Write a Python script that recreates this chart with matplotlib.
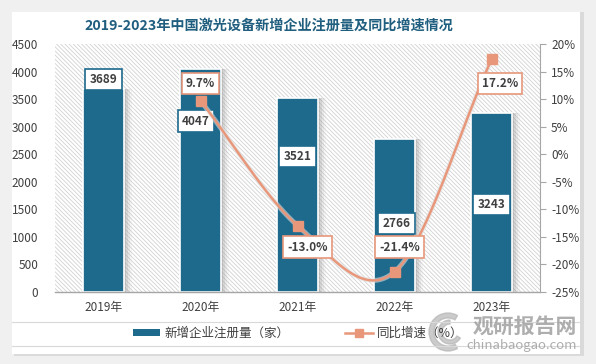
import matplotlib
matplotlib.use("Agg")
import matplotlib.pyplot as plt
import numpy as np
from matplotlib.patches import Rectangle, Wedge
from matplotlib.lines import Line2D
from matplotlib.ticker import FuncFormatter

plt.rcParams['font.family'] = ['Noto Sans CJK SC', 'DejaVu Sans']
plt.rcParams['hatch.color'] = '#D2D2D2'
plt.rcParams['hatch.linewidth'] = 0.6

# ---- data ----
years = ['2019年', '2020年', '2021年', '2022年', '2023年']
registrations = [3689, 4047, 3521, 2766, 3243]
growth_years = ['2020年', '2021年', '2022年', '2023年']
growth = [9.7, -13.0, -21.4, 17.2]
title = '2019-2023年中国激光设备新增企业注册量及同比增速情况'
legend_bar = '新增企业注册量（家）'
legend_line = '同比增速（%）'

BAR = '#1D6A8D'
LINE = '#E8977B'
TXT = '#404040'

fig = plt.figure(figsize=(5.96, 3.64), dpi=100)
fig.patch.set_facecolor('#F0F0F0')
# card with shadow
fig.patches.append(Rectangle((14/596, 8/364), 570/596, 344/364, transform=fig.transFigure,
                             facecolor='#DADADA', edgecolor='none', zorder=-5))
fig.patches.append(Rectangle((12/596, 10/364), 568/596, 342/364, transform=fig.transFigure,
                             facecolor='white', edgecolor='none', zorder=-4))

ax = fig.add_axes([55/596, (364-291.6)/364, 485/596, (291.6-44)/364])
ax.set_facecolor('white')
hp = Rectangle((0, 0), 1, 1, transform=ax.transAxes, fill=False,
               hatch='\\' * 8, edgecolor='#D2D2D2', linewidth=0, zorder=0)
ax.add_patch(hp)

x = np.arange(len(years))
# soft shadow behind bars (to the right)
for k, a in enumerate([0.35, 0.25, 0.15, 0.08]):
    ax.bar(x + 0.02 + 0.02 * k, registrations, width=0.43, color='#A0A0A0', alpha=a,
           linewidth=0, zorder=1)
ax.bar(x, registrations, width=0.43, color=BAR, edgecolor='white', linewidth=1.2, zorder=2)
ax.set_xlim(-0.5, len(years) - 0.5)
ax.set_ylim(0, 4500)
ax.set_yticks(np.arange(0, 4501, 500))
ax.set_xticks(x)
ax.set_xticklabels(years, fontsize=8.5, color=TXT)
ax.tick_params(axis='y', length=0, pad=12, labelsize=8.5, labelcolor=TXT)
ax.tick_params(axis='x', length=0, pad=7)
for s in ['top', 'right', 'left']:
    ax.spines[s].set_visible(False)
ax.spines['bottom'].set_color('#A6A6A6')
ax.spines['bottom'].set_linewidth(1.0)

ax2 = ax.twinx()
ax2.set_ylim(-25, 20)
ax2.set_yticks(np.arange(-25, 21, 5))
ax2.yaxis.set_major_formatter(FuncFormatter(lambda v, p: f'{int(v)}%'))
ax2.tick_params(axis='y', length=4, color='#A6A6A6', pad=4, labelsize=8.5, labelcolor=TXT)
for s in ['top', 'left', 'bottom']:
    ax2.spines[s].set_visible(False)
ax2.spines['right'].set_color('#A6A6A6')

# smooth line (Catmull-Rom through the data points)
gx = np.array([years.index(g) for g in growth_years], dtype=float)
gy = np.array(growth, dtype=float)
n = len(gx)
tx = np.zeros(n); ty = np.zeros(n)
for i in range(n):
    if i == 0:
        tx[i], ty[i] = gx[1] - gx[0], gy[1] - gy[0]
    elif i == n - 1:
        tx[i], ty[i] = gx[-1] - gx[-2], gy[-1] - gy[-2]
    else:
        tx[i], ty[i] = (gx[i+1] - gx[i-1]) / 2, (gy[i+1] - gy[i-1]) / 2
sx, sy = [], []
t = np.linspace(0, 1, 40)
h00 = 2*t**3 - 3*t**2 + 1; h10 = t**3 - 2*t**2 + t
h01 = -2*t**3 + 3*t**2; h11 = t**3 - t**2
for i in range(n - 1):
    sx.extend(h00*gx[i] + h10*tx[i] + h01*gx[i+1] + h11*tx[i+1])
    sy.extend(h00*gy[i] + h10*ty[i] + h01*gy[i+1] + h11*ty[i+1])
ax2.plot(sx, sy, color='#E0E0E0', lw=3.5, alpha=0.6, zorder=3)
ax2.plot(sx, sy, color=LINE, lw=1.8, zorder=4)
ax2.plot(gx, gy, ls='none', marker='s', ms=6.5, color=LINE, zorder=5)

# labels
def boxed(axis, xx, yy, s, ec):
    axis.annotate(s, (xx, yy), xycoords='data', ha='center', va='center',
                  fontsize=8.5, fontweight='bold', color=TXT, zorder=6,
                  bbox=dict(boxstyle='square,pad=0.35', fc='white', ec=ec, lw=1.2))

bar_label_y = [3850, 3100, 2450, 1240, 1580]
bar_label_dx = [0, -0.05, 0, 0.02, 0]
for i, (v, ly) in enumerate(zip(registrations, bar_label_y)):
    boxed(ax, x[i] + bar_label_dx[i], ly, str(v), BAR)

pct_label_y = [12.8, -16.9, -16.9, 12.8]
pct_label_dx = [0, 0.1, 0.05, 0.09]
for i, (v, ly) in enumerate(zip(growth, pct_label_y)):
    boxed(ax2, gx[i] + pct_label_dx[i], ly, f'{v:.1f}%', LINE)

# title
fig.text(269/596, 1 - 26/364, title, ha='center', va='center', fontsize=10.2,
         fontweight='bold', color='#1F5E7E')

# legend separators
fig.add_artist(Line2D([12/596, 580/596], [1 - 322/364, 1 - 322/364], color='#D9D9D9', lw=0.8))
fig.add_artist(Line2D([12/596, 580/596], [1 - 346/364, 1 - 346/364], color='#D9D9D9', lw=0.8))
handles = [Rectangle((0, 0), 1, 1, fc=BAR, ec='none'),
           Line2D([0], [0], color=LINE, lw=1.8, marker='s', ms=6, markerfacecolor=LINE)]
fig.legend(handles, [legend_bar, legend_line], loc='center', bbox_to_anchor=(298/596, 1 - 333/364),
           ncol=2, frameon=False, fontsize=9, handlelength=2.2, handleheight=0.5,
           columnspacing=4.5, handletextpad=0.3, labelcolor=TXT)

# watermark
logo_ax = fig.add_axes([428/596, 1 - 352/364, 40/596, 40/364])
logo_ax.set_xlim(-1, 1); logo_ax.set_ylim(-1, 1); logo_ax.axis('off')
logo_ax.add_patch(Wedge((0, 0), 0.95, 60, 300, width=0.25, color='#B5B5B5', alpha=0.7))
logo_ax.add_patch(Wedge((0.1, 0), 0.6, 90, 330, width=0.2, color='#B5B5B5', alpha=0.7))
fig.text(525/596, 1 - 326/364, '观研报告网', ha='center', va='center', fontsize=15,
         fontweight='bold', color='#9A9A9A', alpha=0.8)
fig.text(522/596, 1 - 345/364, 'chinabaogao.com', ha='center', va='center', fontsize=9.5,
         color='#9A9A9A', alpha=0.8)

fig.savefig('out.png', dpi=100, facecolor=fig.get_facecolor())
